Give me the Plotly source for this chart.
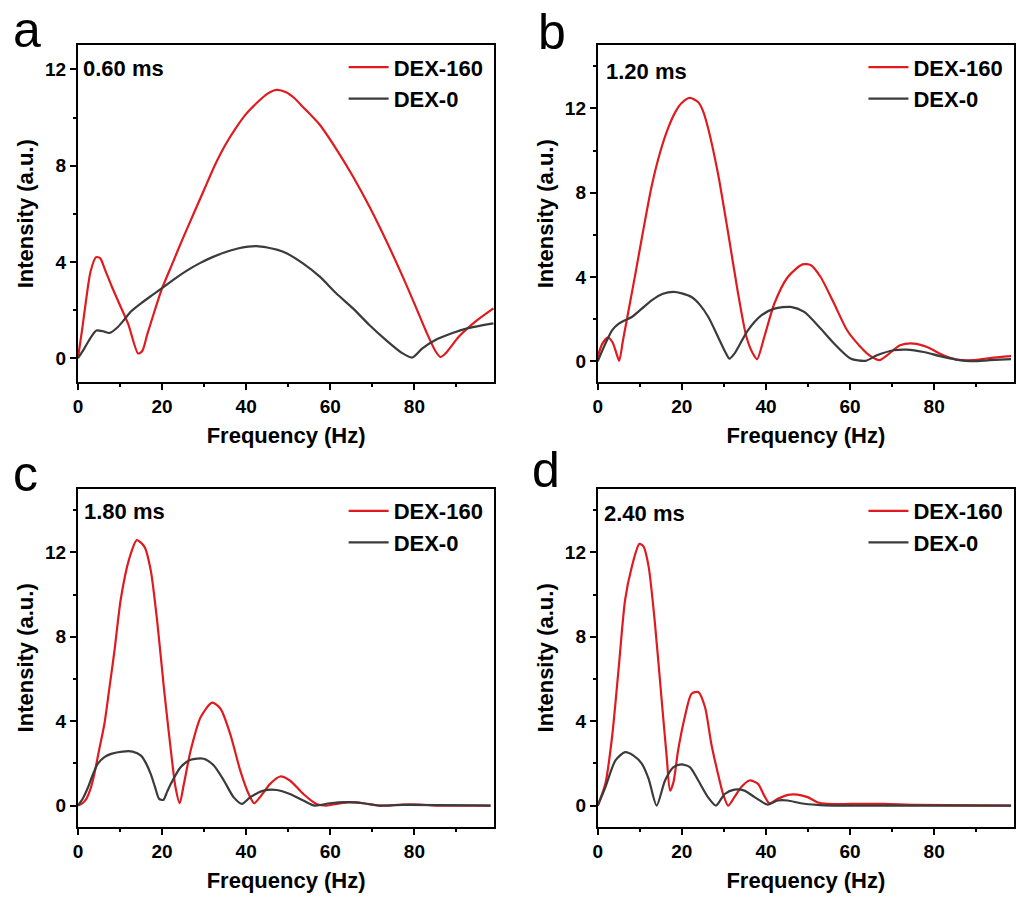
import plotly.graph_objects as go
from plotly.subplots import make_subplots

# ---- spectra: frequency (Hz) and intensity (a.u.) ----
# (a) 0.60 ms
a_red_f = [0, 1, 2, 3, 4.3, 5.3, 6.5, 8, 10, 12, 14.3, 15.3, 16.5, 18.2, 20, 22.5, 25, 27.5, 30, 32.5,
           35, 37.5, 40, 42.5, 45, 47.2, 49.5, 51.5, 53.5, 57.5, 61.4, 65.4, 69.3, 73.2, 77.2, 80,
           82.7, 85, 86.2, 87.4, 90.6, 94.5, 98.8]
a_red_i = [0, 1.2, 2.5, 3.6, 4.2, 4.15, 3.65, 3.0, 2.2, 1.4, 0.2, 0.3, 1.0, 1.95, 2.9, 3.95, 5.0, 6.0,
           7.0, 8.0, 8.85, 9.55, 10.15, 10.6, 10.98, 11.15, 11.05, 10.8, 10.44, 9.7, 8.7, 7.55, 6.3,
           4.92, 3.4, 2.27, 1.15, 0.3, 0.05, 0.2, 0.9, 1.52, 2.07]
a_blk_f = [0, 1.5, 3, 4.4, 6, 7.5, 9.5, 11, 12.6, 15, 17.5, 20.3, 23, 26, 29, 32, 35, 38, 40.5, 42.5,
           45, 47.5, 49.6, 53.5, 57.5, 61.4, 65.4, 69.3, 73.2, 77.2, 79.5, 81.9, 85, 88.9, 92.8, 98.8]
a_blk_i = [0, 0.4, 0.85, 1.15, 1.12, 1.05, 1.3, 1.6, 1.94, 2.28, 2.6, 2.95, 3.3, 3.65, 3.95, 4.2, 4.4,
           4.56, 4.64, 4.66, 4.6, 4.5, 4.36, 3.94, 3.39, 2.7, 2.07, 1.38, 0.76, 0.2, 0.03, 0.41, 0.76,
           1.04, 1.25, 1.45]

# (b) 1.20 ms
b_red_f = [0, 1, 2.4, 3.5, 4.4, 5.1, 6, 7.5, 8.9, 10.8, 12.8, 14.8, 16.8, 18.5, 19.9, 21.9, 23.9, 25,
           26.2, 28.6, 31, 33.3, 35.3, 36.8, 37.9, 39.6, 42, 45.2, 48.7, 50.7, 53, 56.2, 59.3, 62.5,
           64.9, 67, 68.8, 71.9, 75.1, 78.3, 82.2, 85.3, 89.3, 92.4, 95.6, 98.3]
b_red_i = [0.2, 0.8, 1.12, 0.9, 0.4, 0.02, 1.0, 2.6, 4.1, 6.2, 8.3, 9.9, 11.1, 11.85, 12.25, 12.5, 12.3,
           11.9, 11.1, 8.9, 6.1, 3.3, 1.2, 0.4, 0.1, 1.15, 2.74, 4.0, 4.6, 4.56, 4.0, 2.74, 1.47,
           0.68, 0.24, 0.05, 0.28, 0.76, 0.84, 0.68, 0.28, 0.08, 0.05, 0.13, 0.2, 0.24]
b_blk_f = [0, 1.5, 3.4, 5, 6.5, 8.1, 10.5, 12.9, 15.5, 18, 20, 22.3, 24.2, 26.3, 28.5, 30.3, 31.3, 32.5,
           35.7, 38.9, 42, 45.9, 49.1, 53, 56.2, 60.1, 63.7, 66.4, 70.4, 73.5, 77.5, 81.4, 85.3, 89.3,
           93.2, 98.3]
b_blk_i = [0, 0.7, 1.47, 1.79, 1.95, 2.1, 2.5, 2.9, 3.2, 3.29, 3.22, 3.05, 2.7, 2.1, 1.2, 0.45, 0.12,
           0.36, 1.47, 2.18, 2.5, 2.58, 2.34, 1.55, 0.84, 0.13, 0.02, 0.28, 0.52, 0.55, 0.44, 0.24,
           0.08, 0.0, 0.05, 0.1]

# (c) 1.80 ms
c_red_f = [0, 1, 2, 3, 3.9, 5, 6.3, 7.5, 8.7, 10.2, 12.2, 14, 15.8, 17.3, 18.9, 20.5, 22.1, 23.2, 24.2,
           25.2, 26.8, 29.2, 31.9, 33.9, 36.2, 38.6, 40.6, 41.9, 43.3, 45.7, 48.1, 50.4, 53.6, 56.7,
           59.1, 61.5, 64.6, 67.8, 71.7, 77.2, 81.2, 85.1, 98.1]
c_red_i = [0, 0.1, 0.32, 0.8, 1.5, 2.6, 3.88, 5.6, 7.36, 9.8, 11.7, 12.58, 12.27, 11.16, 8.63, 5.46,
           2.61, 0.87, 0.11, 1.03, 2.61, 4.2, 4.88, 4.59, 3.4, 1.66, 0.55, 0.11, 0.4, 1.03, 1.38, 1.19,
           0.55, 0.08, 0.0, 0.08, 0.16, 0.11, 0.0, 0.05, 0.05, 0.0, 0.0]
c_blk_f = [0, 1.2, 2.4, 3.5, 4.7, 6.3, 7.9, 10.6, 13, 15, 16.2, 17.3, 18.3, 19.3, 20.3, 21.2, 22.1, 24.4,
           26.8, 29.9, 32.3, 34.7, 37, 39, 41, 44.1, 47.3, 50.4, 53.6, 56.3, 59.9, 63.8, 67.8, 71.7,
           77.2, 98.1]
c_blk_i = [0, 0.35, 0.87, 1.45, 1.98, 2.3, 2.45, 2.56, 2.56, 2.37, 2.0, 1.5, 0.9, 0.32, 0.27, 0.65,
           1.03, 1.82, 2.17, 2.22, 1.9, 1.19, 0.4, 0.08, 0.4, 0.71, 0.74, 0.55, 0.24, 0.0, 0.11, 0.16,
           0.11, 0.0, 0.03, 0.0]

# (d) 2.40 ms
d_red_f = [0, 1.8, 3.4, 5, 6.5, 8.1, 9.9, 10.9, 12.1, 13.6, 15.2, 16.4, 17.2, 18, 19.1, 20.7, 22.3,
           23.9, 25.5, 27, 28.6, 29.8, 31, 32.5, 34.1, 36.1, 38.1, 39.6, 40.8, 42.8, 45.2, 47.5, 49.9,
           52.2, 54.6, 60.1, 68, 75.9, 98.3]
d_red_i = [0, 1.03, 3.25, 6.57, 9.74, 11.32, 12.4, 12.27, 11.32, 8.63, 4.99, 2.3, 0.71, 1.1, 2.61, 4.2,
           5.3, 5.38, 4.67, 2.93, 1.5, 0.55, 0.0, 0.4, 0.87, 1.19, 1.03, 0.47, 0.11, 0.32, 0.51, 0.52,
           0.4, 0.16, 0.08, 0.08, 0.08, 0.03, 0.0]
d_blk_f = [0, 1.8, 4.2, 6.5, 8.5, 10.5, 12.1, 14, 16, 18, 19.9, 21.9, 23.9, 26.2, 28.1, 30.2, 32.5, 34.9,
           37.3, 40.4, 42.8, 45.2, 48.3, 52.2, 56.2, 98.3]
d_blk_i = [0, 0.87, 2.14, 2.53, 2.37, 1.98, 1.27, 0.0, 1.19, 1.82, 1.95, 1.82, 1.19, 0.4, 0.0, 0.55,
           0.76, 0.71, 0.4, 0.05, 0.24, 0.24, 0.11, 0.03, 0.0, 0.0]

panel_letters = ["a", "b", "c", "d"]
pulse_labels = ["0.60 ms", "1.20 ms", "1.80 ms", "2.40 ms"]
series_names = ["DEX-160", "DEX-0"]
y_ticks = [0, 4, 8, 12]
x_ticks = [0, 20, 40, 60, 80]

RED = "#e01b1f"
DARK = "#3b3b3b"
FONT = "Liberation Sans, Arial, sans-serif"
W, H = 1016, 898

panels = [
    (a_red_f, a_red_i, a_blk_f, a_blk_i),
    (b_red_f, b_red_i, b_blk_f, b_blk_i),
    (c_red_f, c_red_i, c_blk_f, c_blk_i),
    (d_red_f, d_red_i, d_blk_f, d_blk_i),
]
y_ranges = [[-1, 13], [-1, 15], [-1, 15], [-1, 15]]

fig = make_subplots(rows=2, cols=2)

# subplot boxes in pixels: (left, right, top, bottom)
boxes = [(73.3, 491.7, 45.3, 382.3), (595.7, 1014, 45.3, 382.3),
         (73.3, 491.7, 489, 826.7), (595.7, 1014, 489, 826.7)]

legend_names = ["legend", "legend2", "legend3", "legend4"]
for k, (rf, ri, bf, bi) in enumerate(panels):
    row, col = k // 2 + 1, k % 2 + 1
    for f, i, name, color in ((rf, ri, series_names[0], RED), (bf, bi, series_names[1], DARK)):
        fig.add_trace(go.Scatter(x=f, y=i, mode="lines", name=name,
                                 line=dict(color=color, width=2.2, shape="spline", smoothing=0.7),
                                 legend=legend_names[k], showlegend=True),
                      row=row, col=col)

layout = dict(width=W, height=H, margin=dict(l=0, r=0, t=0, b=0),
              paper_bgcolor="white", plot_bgcolor="white",
              font=dict(family=FONT, color="black"))

axis_common = dict(showline=True, mirror=True, linecolor="black", linewidth=2,
                   ticks="outside", ticklen=6, tickwidth=2, tickcolor="black",
                   showgrid=False, zeroline=False,
                   tickfont=dict(family=FONT, size=19, color="black", weight="bold"))

for k, (l, r, t, b) in enumerate(boxes):
    sfx = "" if k == 0 else str(k + 1)
    layout["xaxis" + sfx] = dict(axis_common, domain=[l / W, r / W], range=[0, 99],
                                 tickvals=x_ticks,
                                 minor=dict(ticks="outside", ticklen=3, tickwidth=2, dtick=10,
                                            tick0=0, tickcolor="black"),
                                 title=dict(text="Frequency (Hz)", standoff=12,
                                            font=dict(family=FONT, size=22, weight="bold")))
    layout["yaxis" + sfx] = dict(axis_common, domain=[1 - b / H, 1 - t / H], range=y_ranges[k],
                                 tickvals=y_ticks,
                                 minor=dict(ticks="outside", ticklen=3, tickwidth=2, dtick=2,
                                            tick0=0, tickcolor="black"),
                                 title=dict(text="Intensity (a.u.)", standoff=5,
                                            font=dict(family=FONT, size=22, weight="bold")))
    layout[legend_names[k]] = dict(x=(l + 267) / W, y=1 - (t + 1) / H, xanchor="left",
                                   yanchor="top", bgcolor="rgba(0,0,0,0)", borderwidth=0,
                                   itemwidth=40,
                                   font=dict(family=FONT, size=22, color="black", weight="bold"),
                                   tracegroupgap=0)

fig.update_layout(**layout)

# time labels inside each panel and panel letters
label_pos = [(76, 68.5), (602, 71.5), (77, 511.5), (600, 513)]
letter_pos = [(6, 0), (534, 2), (6, 444), (528, 440)]
for k in range(4):
    lx, ly = label_pos[k]
    fig.add_annotation(x=lx / W, y=1 - ly / H, xref="paper", yref="paper", showarrow=False,
                       text=pulse_labels[k], xanchor="left", yanchor="middle",
                       font=dict(family=FONT, size=22, color="black", weight="bold"))
    px, py = letter_pos[k]
    fig.add_annotation(x=px / W, y=1 - py / H, xref="paper", yref="paper", showarrow=False,
                       text=panel_letters[k], xanchor="left", yanchor="top",
                       font=dict(family=FONT, size=50, color="black"))

fig.write_html("out.html")
